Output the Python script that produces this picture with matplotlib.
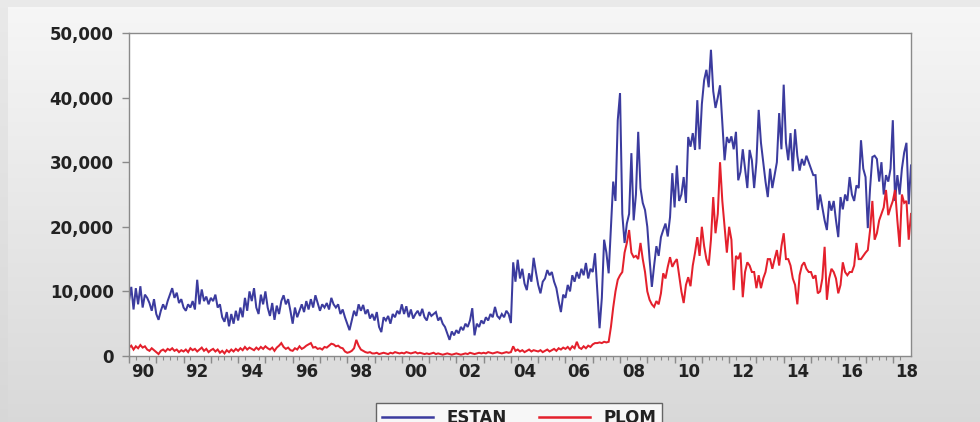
import numpy as np
import matplotlib
matplotlib.use('Agg')
import matplotlib.pyplot as plt
from matplotlib.lines import Line2D

# monthly series, 1990M01 .. 2018M09, in thousands
estan_k = [
    8.5, 10.7, 7.2, 10.5, 8.0, 10.8, 7.5, 9.5, 9.0, 8.2, 7.0, 8.8,          # 1990
    6.5, 5.6, 7.0, 8.0, 7.2, 8.5, 9.5, 10.5, 9.0, 9.8, 8.2, 8.8,           # 1991
    7.5, 7.0, 8.0, 7.5, 8.5, 7.2, 11.8, 8.0, 10.3, 8.5, 9.2, 8.0,          # 1992
    9.0, 8.5, 9.5, 7.5, 8.0, 6.0, 5.3, 6.8, 4.6, 6.5, 5.0, 7.0,            # 1993
    5.5, 7.5, 6.0, 9.0, 7.0, 10.0, 8.5, 10.5, 7.5, 6.5, 9.5, 8.0,          # 1994
    10.0, 7.5, 6.2, 8.2, 5.6, 7.8, 6.5, 8.5, 9.4, 8.0, 8.8, 7.0,           # 1995
    5.0, 7.5, 6.0, 7.0, 8.0, 6.8, 8.5, 7.2, 8.8, 7.5, 9.4, 8.2,            # 1996
    7.0, 8.0, 7.5, 8.2, 7.2, 9.0, 8.0, 7.5, 8.0, 6.5, 7.2, 6.0,            # 1997
    5.0, 4.0, 5.5, 7.0, 6.2, 8.0, 7.0, 7.9, 6.5, 7.2, 5.8, 6.5,            # 1998
    5.5, 6.8, 4.5, 3.7, 6.0, 5.5, 6.2, 5.0, 6.5, 6.0, 7.0, 6.5,            # 1999
    8.0, 6.5, 7.7, 6.0, 7.2, 5.8, 6.5, 7.0, 6.2, 7.3, 6.0, 5.5,            # 2000
    6.8, 6.2, 6.5, 6.8, 5.5, 6.0, 5.0, 4.5, 3.5, 2.5, 3.8, 3.2,            # 2001
    4.0, 3.5, 4.5, 4.0, 5.0, 4.5, 5.5, 7.4, 3.2, 5.0, 4.5, 5.5,            # 2002
    5.0, 6.0, 5.5, 6.5, 6.0, 7.6, 6.2, 5.8, 6.5, 6.0, 7.0, 6.5,            # 2003
    5.1, 14.5, 11.5, 14.9, 12.0, 13.5, 11.2, 10.2, 12.8, 11.5, 15.2, 13.0, # 2004
    11.0, 9.7, 11.5, 12.0, 13.3, 12.5, 13.0, 11.5, 10.5, 8.5, 6.8, 9.5,    # 2005
    9.0, 11.0, 10.0, 12.5, 11.5, 13.0, 12.0, 13.5, 12.5, 14.4, 12.0, 13.5, # 2006
    13.0, 15.9, 10.0, 4.3, 9.0, 18.0, 16.0, 12.8, 20.0, 27.0, 24.0, 36.5,  # 2007
    40.7, 22.0, 17.5, 20.5, 22.0, 31.4, 21.0, 25.0, 34.7, 26.0, 23.7, 22.6,  # 2008
    20.0, 15.0, 10.7, 14.0, 17.0, 15.5, 18.4, 19.5, 20.5, 18.5, 21.5, 28.3,  # 2009
    23.0, 29.5, 24.0, 25.0, 27.7, 23.7, 33.9, 32.4, 34.5, 31.9, 39.6, 32.0,  # 2010
    39.0, 42.7, 44.3, 41.6, 47.4, 41.0, 38.4, 40.0, 41.9, 36.0, 30.3, 33.9,  # 2011
    33.0, 34.0, 32.0, 34.7, 27.2, 28.5, 32.0, 29.0, 26.0, 31.9, 30.3, 26.0,  # 2012
    30.0, 38.1, 33.0, 30.0, 27.0, 24.6, 29.0, 26.0, 28.0, 30.0, 37.6, 32.0,  # 2013
    42.0, 33.0, 30.3, 34.5, 28.6, 35.1, 31.0, 28.7, 30.5, 29.5, 31.0, 30.0,  # 2014
    29.0, 28.0, 28.0, 22.6, 25.0, 23.0, 21.0, 19.5, 24.0, 22.5, 24.0, 21.0,  # 2015
    18.4, 24.6, 22.7, 25.0, 24.0, 27.7, 25.0, 24.0, 26.4, 26.0, 33.4, 29.0,  # 2016
    27.7, 19.8, 26.0, 30.8, 31.0, 30.5, 27.0, 30.0, 25.0, 28.0, 27.0, 29.0,  # 2017
    36.5, 24.0, 28.0, 25.0, 29.0, 31.5, 33.0, 23.5, 29.5,                    # 2018
]

plom_k = [
    1.3, 1.6, 1.0, 1.5, 1.2, 1.7, 1.3, 1.5, 1.0, 0.8, 1.2, 0.9,   # 1990
    0.6, 0.3, 0.8, 1.0, 0.7, 1.1, 0.9, 1.2, 0.8, 1.0, 0.6, 0.9,   # 1991
    0.7, 1.0, 0.6, 1.2, 0.9, 1.1, 0.7, 1.0, 1.3, 0.8, 1.1, 0.6,   # 1992
    0.9, 1.1, 0.7, 1.0, 0.5, 0.8, 0.4, 0.9, 0.6, 1.0, 0.7, 1.1,   # 1993
    0.8, 1.2, 0.9, 1.4, 1.0, 1.3, 1.1, 0.9, 1.3, 1.0, 1.4, 1.1,   # 1994
    1.5, 1.2, 1.0, 1.3, 0.8, 1.3, 1.6, 2.0, 1.4, 1.1, 1.3, 0.9,   # 1995
    0.8, 1.2, 1.0, 1.5, 1.1, 1.3, 1.6, 1.8, 2.0, 1.3, 1.4, 1.1,   # 1996
    1.2, 1.0, 1.4, 1.3, 1.6, 1.9, 1.8, 1.5, 1.6, 1.3, 1.2, 0.7,   # 1997
    0.5, 0.6, 0.8, 1.2, 2.5, 1.6, 1.0, 0.8, 0.6, 0.5, 0.6, 0.4,   # 1998
    0.4, 0.5, 0.3, 0.4, 0.5, 0.4, 0.3, 0.5, 0.4, 0.6, 0.5, 0.4,   # 1999
    0.5, 0.4, 0.6, 0.5, 0.4, 0.5, 0.6, 0.4, 0.5, 0.4, 0.3, 0.4,   # 2000
    0.3, 0.4, 0.5, 0.3, 0.4, 0.3, 0.2, 0.3, 0.4, 0.3, 0.2, 0.3,   # 2001
    0.4, 0.3, 0.2, 0.3, 0.4, 0.3, 0.5, 0.4, 0.3, 0.4, 0.5, 0.4,   # 2002
    0.5, 0.4, 0.6, 0.5, 0.4, 0.5, 0.6, 0.5, 0.4, 0.5, 0.6, 0.5,   # 2003
    0.6, 1.5, 0.8, 1.0, 0.7, 0.9, 0.6, 0.8, 1.0, 0.7, 0.9, 0.8,   # 2004
    0.7, 0.9, 0.6, 0.8, 1.0, 0.7, 0.9, 1.1, 0.8, 1.2, 1.0, 1.3,   # 2005
    1.1, 1.4, 1.0, 1.5, 1.2, 2.2, 1.3, 1.1, 1.5, 1.2, 1.6, 1.4,   # 2006
    1.8, 2.0, 2.0, 2.1, 2.0, 2.2, 2.1, 2.2, 4.5, 7.5, 10.0, 11.8, # 2007
    12.5, 13.0, 16.0, 17.5, 19.5, 16.0, 15.3, 15.5, 15.0, 17.5, 15.0, 13.0,  # 2008
    10.0, 8.7, 8.0, 7.6, 8.5, 8.0, 9.7, 12.8, 12.0, 13.8, 15.3, 13.8,        # 2009
    14.5, 15.0, 12.5, 10.0, 8.2, 11.0, 12.2, 10.8, 14.0, 16.0, 18.4, 15.5,   # 2010
    20.0, 17.0, 15.0, 14.0, 18.0, 24.6, 19.0, 22.0, 30.0, 24.0, 20.0, 16.0,  # 2011
    20.0, 18.0, 10.2, 15.5, 15.0, 16.0, 9.1, 13.0, 14.5, 14.0, 13.0, 13.0,   # 2012
    10.5, 12.5, 10.5, 12.0, 13.0, 15.0, 15.0, 13.5, 15.0, 16.4, 14.0, 17.0,  # 2013
    19.0, 15.0, 15.0, 14.0, 12.0, 11.0, 8.0, 12.5, 14.0, 14.5, 13.5, 13.0,   # 2014
    13.0, 12.0, 12.5, 9.7, 10.0, 12.0, 16.9, 8.7, 12.0, 13.5, 13.0, 12.0,    # 2015
    9.7, 11.0, 14.5, 13.0, 12.5, 13.0, 13.0, 14.0, 17.5, 15.0, 15.0, 15.5,   # 2016
    16.0, 16.4, 19.5, 24.0, 18.0, 19.0, 21.0, 22.0, 23.0, 25.7, 21.8, 23.0,  # 2017
    24.0, 25.7, 21.0, 16.9, 25.0, 23.7, 24.0, 18.0, 22.0,                    # 2018
]

start_year = 1990
year_labels = ['90', '92', '94', '96', '98', '00', '02', '04', '06', '08',
               '10', '12', '14', '16', '18']
y_ticks = [0, 10000, 20000, 30000, 40000, 50000]

estan = np.array(estan_k) * 1000
plom = np.array(plom_k) * 1000
t = start_year + np.arange(len(estan)) / 12.0

BLUE = '#3b3b9e'
RED = '#e4202c'
TXT = '#222222'
TICK = '#8a8a8a'
FONT = 'DejaVu Sans'

fig = plt.figure(figsize=(9.8, 4.22), dpi=100)

# grey backdrop: darker outer strip, lighter gradient panel
outer = fig.add_axes([0, 0, 1, 1], zorder=-20)
g1 = np.linspace(0.915, 0.845, 256).reshape(-1, 1)
outer.imshow(np.dstack([g1, g1, g1]), aspect='auto', extent=[0, 1, 0, 1])
outer.axis('off')

panel = fig.add_axes([8 / 980, 0, 972 / 980, 415 / 422], zorder=-10)
g2 = np.linspace(0.965, 0.85, 256).reshape(-1, 1)
panel.imshow(np.dstack([g2, g2, g2]), aspect='auto', extent=[0, 1, 0, 1])
panel.axis('off')

ax = fig.add_axes([129 / 980, 66 / 422, 782 / 980, 323 / 422])
ax.set_facecolor('white')
ax.plot(t, estan, color=BLUE, lw=1.45, solid_joinstyle='miter')
ax.plot(t, plom, color=RED, lw=1.45, solid_joinstyle='miter')

ax.set_xlim(t[0], t[-1])
ax.set_ylim(0, 50000)

for s in ax.spines.values():
    s.set_color(TICK)
    s.set_linewidth(1.0)

ax.set_yticks(y_ticks)
ax.set_yticklabels([f'{v:,}' for v in y_ticks], fontfamily=FONT,
                   fontweight='bold', fontsize=12, color=TXT)
ax.tick_params(axis='y', direction='out', length=5, width=1, color=TICK, pad=6)

# labels centred on the year, quarterly minor ticks
lab_pos = [start_year + 2 * i + 0.5 for i in range(len(year_labels))]
ax.set_xticks(lab_pos)
ax.set_xticklabels(year_labels, fontfamily=FONT, fontweight='bold',
                   fontsize=12, color=TXT)
ax.set_xticks(np.arange(start_year, t[-1], 0.25), minor=True)
ax.tick_params(axis='x', which='major', length=0, pad=5)
ax.tick_params(axis='x', which='minor', direction='out', length=3, width=0.8,
               color=TICK)

sec = ax.secondary_xaxis('bottom')
sec.set_xticks(np.arange(start_year, 2019))
sec.tick_params(direction='out', length=5, width=1, color=TICK, labelbottom=False)
sec.spines['bottom'].set_visible(False)

handles = [Line2D([], [], color=BLUE, lw=1.8), Line2D([], [], color=RED, lw=1.8)]
leg = fig.legend(handles, ['ESTAN', 'PLOM'], loc='upper center',
                 bbox_to_anchor=(519 / 980, 19 / 422), borderaxespad=0,
                 ncol=2, frameon=True, fancybox=False, edgecolor='#444444',
                 handlelength=3.1, handletextpad=0.8, columnspacing=1.9,
                 borderpad=0.35,
                 prop={'family': FONT, 'weight': 'bold', 'size': 12})
leg.get_frame().set_linewidth(1.0)
for txt in leg.get_texts():
    txt.set_color(TXT)

fig.savefig('out.png', dpi=100)
